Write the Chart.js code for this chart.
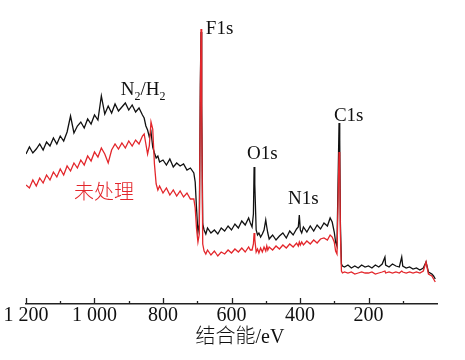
<!DOCTYPE html>
<html>
<head>
<meta charset="utf-8">
<script src="https://cdn.jsdelivr.net/npm/chart.js@4.4.0/dist/chart.umd.min.js"></script>
<style>
  html, body { margin: 0; padding: 0; background: #fff; }
</style>
</head>
<body>
<canvas id="xps-chart" width="465" height="360"></canvas>
<script>
// binding energy (eV)
var energies = [
  1200,1190,1180,1170,1160,1150,1140,1130,1120,1110,
  1100,1090,1080,1070,1060,1050,1040,1030,1020,1010,
  1000,990,980,970,960,950,940,930,920,910,
  900,890,880,870,860,855,850,845,840,835,
  830,825,820,815,810,800,790,780,770,760,
  750,740,730,720,710,706,702,698,694,691,
  689,687,684,680,675,670,660,650,640,630,
  620,610,600,590,580,570,560,550,545,540,
  536,534,532,528,524,520,515,510,505,500,
  497,494,490,480,470,460,450,440,430,420,
  410,405,402,399,395,390,380,370,360,350,
  340,330,320,312,306,300,296,292,289,286,
  284,282,279,276,270,260,250,240,230,220,
  210,200,190,180,170,160,152,150,140,130,
  120,110,103,100,90,80,70,60,50,40,
  32,25,15,10,5
];

// intensity (a.u.), N2/H2 treated sample (black)
var n2h2 = [
  150,157,151,155,160,154,162,158,166,160,
  168,163,172,188,171,178,182,176,185,180,
  189,184,208,190,198,191,200,193,197,201,
  194,199,192,196,189,186,178,174,167,172,
  157,151,146,148,142,144,139,145,137,141,
  138,140,134,136,131,122,95,72,80,220,
  272,200,80,74,70,76,71,74,70,76,
  73,78,74,80,76,83,79,86,81,77,
  90,137,120,74,69,71,67,70,74,84,
  77,71,65,69,64,68,71,66,73,69,
  75,77,89,74,71,77,72,78,73,79,
  75,81,78,86,82,72,62,58,120,181,
  165,80,40,38,37,39,36,38,36,39,
  37,38,36,39,37,40,47,39,37,40,
  38,37,47,38,36,37,35,36,34,36,
  42,32,30,28,25
];

// intensity (a.u.), untreated sample (red)
var untreated = [
  119,116,124,118,126,121,129,124,132,127,
  135,129,138,133,141,136,144,139,148,143,
  152,147,156,150,141,154,160,155,161,156,
  163,158,164,160,168,170,160,150,158,182,
  175,140,120,114,118,111,116,109,114,108,
  113,107,111,105,105,96,75,62,70,210,
  275,190,60,53,50,54,49,53,48,52,
  50,54,51,55,52,56,52,57,54,54,
  60,71,65,52,55,51,56,52,57,53,
  58,54,57,54,58,55,59,56,60,57,
  61,58,62,59,62,59,63,60,64,61,
  65,66,64,69,67,62,53,50,100,152,
  140,70,33,31,32,31,32,30,31,32,
  31,31,32,30,31,32,33,31,32,31,
  32,31,33,32,31,32,31,32,31,33,
  42,30,28,25,22
];

var tickEnergies = [1200, 1000, 800, 600, 400, 200];
var tickLabels = ["1 200", "1 000", "800", "600", "400", "200"];

function toPoints(vals) {
  return energies.map(function(e, i) { return { x: e, y: vals[i] }; });
}

var serif = '"Liberation Serif", "Times New Roman", serif';
var redColor = "#e3262b";

// inward ticks: major every 200 eV, minor every 100 eV
var tickMarks = {
  id: "tickMarks",
  afterDraw: function(chart) {
    var ctx = chart.ctx;
    var xs = chart.scales.x;
    var y0 = chart.chartArea.bottom;
    ctx.save();
    ctx.strokeStyle = "#222";
    ctx.lineWidth = 1.3;
    for (var e = 1200; e > 0; e -= 100) {
      var px = Math.round(xs.getPixelForValue(e)) + 0.5;
      var len = (e % 200 === 0) ? 6 : 3;
      ctx.beginPath();
      ctx.moveTo(px, y0);
      ctx.lineTo(px, y0 - len);
      ctx.stroke();
    }
    // axis title
    ctx.fillStyle = "#111";
    ctx.font = "300 20px " + serif + ', "Noto Sans CJK SC"';
    ctx.textAlign = "center";
    ctx.textBaseline = "middle";
    ctx.fillText("结合能/eV", 240, 338);
    ctx.restore();
  }
};

// peak and series labels
var peakLabels = {
  id: "peakLabels",
  afterDraw: function(chart) {
    var ctx = chart.ctx;
    var xs = chart.scales.x, ys = chart.scales.y;
    ctx.save();
    ctx.fillStyle = "#111";
    ctx.textAlign = "left";
    ctx.textBaseline = "alphabetic";
    ctx.font = "19px " + serif;
    ctx.fillText("F1s", xs.getPixelForValue(675), ys.getPixelForValue(270));
    ctx.fillText("O1s", xs.getPixelForValue(555), ys.getPixelForValue(145));
    ctx.fillText("N1s", xs.getPixelForValue(435), ys.getPixelForValue(100));
    ctx.fillText("C1s", xs.getPixelForValue(301), ys.getPixelForValue(183));

    // N2/H2 with subscripts
    var x = xs.getPixelForValue(923), y = ys.getPixelForValue(209);
    var parts = [["N", 19, 0], ["2", 12, 5], ["/H", 19, 0], ["2", 12, 5]];
    parts.forEach(function(p) {
      ctx.font = p[1] + "px " + serif;
      ctx.fillText(p[0], x, y + p[2]);
      x += ctx.measureText(p[0]).width;
    });

    ctx.fillStyle = redColor;
    ctx.font = '300 20px "Noto Sans CJK SC"';
    ctx.textBaseline = "middle";
    ctx.fillText("未处理", xs.getPixelForValue(1060), ys.getPixelForValue(113));
    ctx.restore();
  }
};

new Chart("xps-chart", {
  type: "line",
  data: {
    datasets: [{
      label: "未处理",
      data: toPoints(untreated),
      borderColor: redColor,
      borderWidth: 1.3,
      pointRadius: 0,
      tension: 0
    }, {
      label: "N2/H2",
      data: toPoints(n2h2),
      borderColor: "#111",
      borderWidth: 1.3,
      pointRadius: 0,
      tension: 0
    }]
  },
  options: {
    responsive: false,
    animation: false,
    devicePixelRatio: 1,
    layout: { padding: { left: 26, right: 28, top: 14, bottom: 32 } },
    plugins: {
      legend: { display: false },
      tooltip: { enabled: false }
    },
    scales: {
      x: {
        type: "linear",
        reverse: true,
        min: 0,
        max: 1200,
        grid: { display: false, drawTicks: false },
        border: { display: true, color: "#222", width: 1.5 },
        ticks: {
          stepSize: 200,
          autoSkip: false,
          maxRotation: 0,
          padding: 0,
          color: "#111",
          font: { family: serif, size: 20, lineHeight: 1.2 },
          callback: function(value) {
            var i = tickEnergies.indexOf(value);
            return i < 0 ? "" : tickLabels[i];
          }
        }
      },
      y: { display: false, min: 0, max: 290 }
    }
  },
  plugins: [tickMarks, peakLabels]
});
</script>
</body>
</html>
